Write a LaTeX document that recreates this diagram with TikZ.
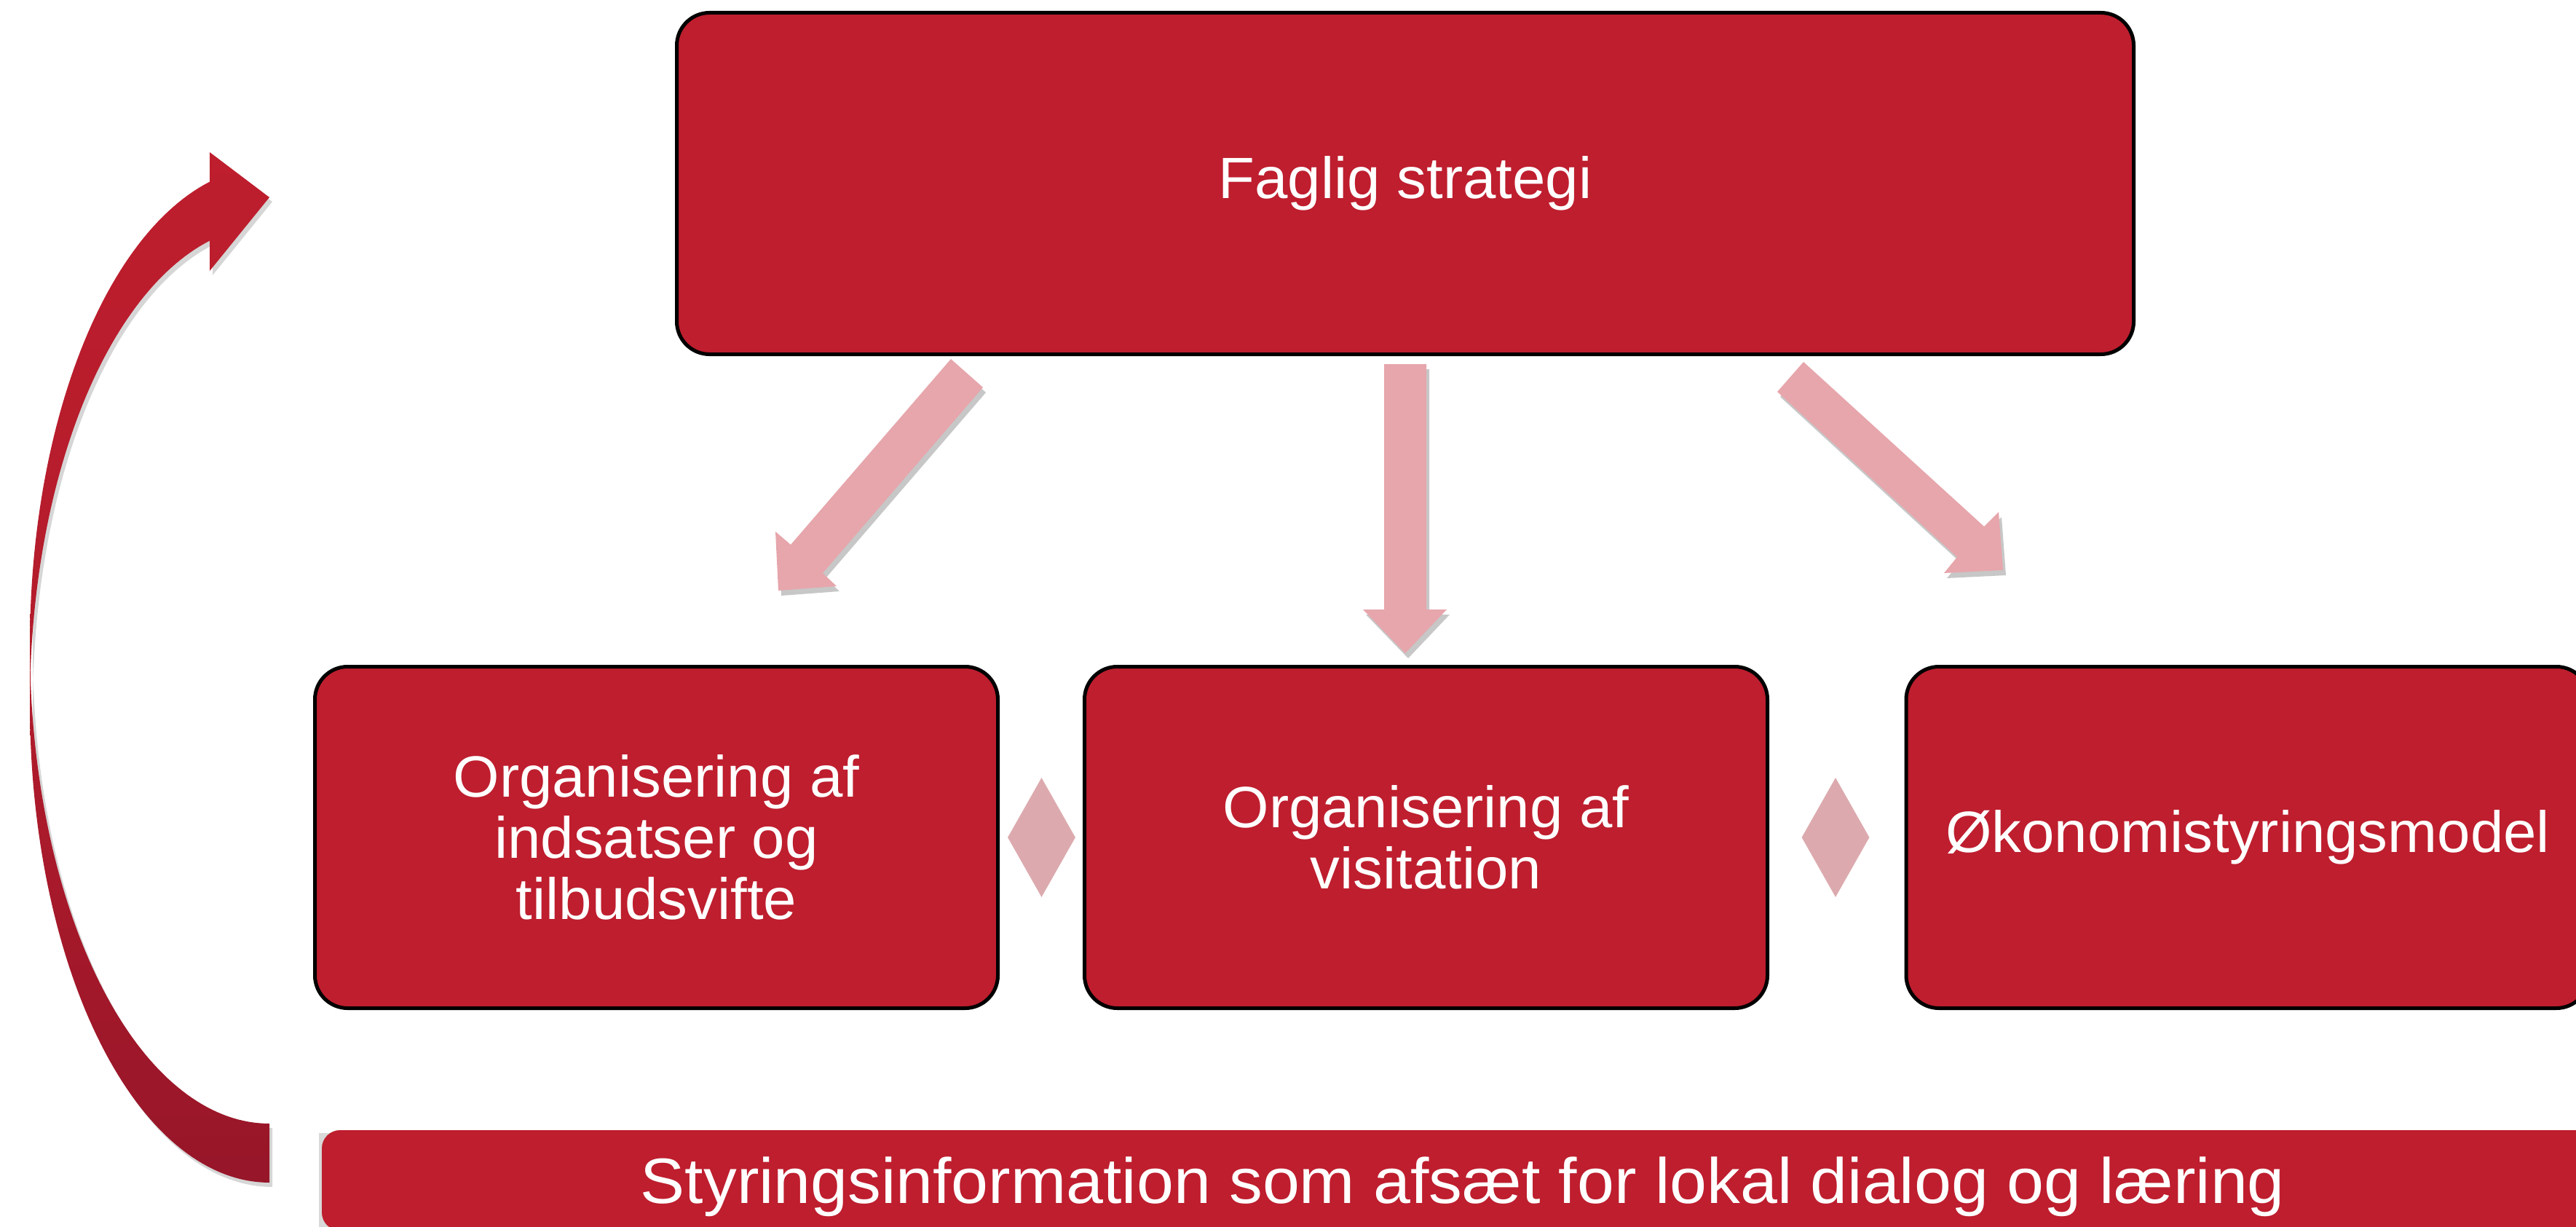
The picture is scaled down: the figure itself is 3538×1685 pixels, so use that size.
\documentclass[tikz,border=0pt]{standalone}
\usepackage{fontspec}
\setmainfont{Liberation Sans}
\newfontfamily\boxfont{Liberation Sans}[FakeStretch=1.02]
\newfontfamily\barfont{Liberation Sans}[FakeStretch=1.04]
\usetikzlibrary{shapes.geometric}
\definecolor{boxred}{HTML}{BE1E2E}
\definecolor{arrowpink}{HTML}{E6A6AC}
\definecolor{diapink}{HTML}{DCAAAE}
\definecolor{curvetop}{HTML}{BE1E2D}
\definecolor{curvebot}{HTML}{971629}
\begin{document}
\begin{tikzpicture}[x=1pt,y=-1pt,
  redbox/.style={draw=black, line width=5pt, fill=boxred, rounded corners=45pt,
    text=white, align=center, font=\boxfont\fontsize{80}{84}\selectfont, inner sep=0pt},
  blockarrow/.style={fill=arrowpink, draw=none},
  arrowshadow/.style={fill=black, opacity=0.22, draw=none},
  diam/.style={diamond, fill=diapink, draw=none, inner sep=0pt,
    minimum width=93pt, minimum height=164pt},
  bartext/.style={text=white, font=\barfont\fontsize{88}{92}\selectfont, anchor=base, inner sep=0pt}]
\useasboundingbox (0,0) rectangle (3538,1685);
\clip (0,0) rectangle (3538,1685);
\fill[white] (0,0) rectangle (3538,1685);

% curved feedback arrow: two equal ellipses offset vertically
\def\curvepath{
  plot[domain=90:183.53, samples=70, variable=\t] ({370+329*cos(\t)},{966.9+657.1*sin(\t)})
  -- plot[domain=176.47:255.57, samples=60, variable=\t] ({370+329*cos(\t)},{885.9+657.1*sin(\t)})
  -- (288,209) -- (370,271) -- (288,372)
  -- plot[domain=255.57:183.53, samples=60, variable=\t] ({370+329*cos(\t)},{966.9+657.1*sin(\t)})
  -- plot[domain=176.47:90, samples=70, variable=\t] ({370+329*cos(\t)},{885.9+657.1*sin(\t)})
  -- cycle}
\fill[black, opacity=0.16, shift={(4,6)}] \curvepath;
\path[top color=curvetop, bottom color=curvebot, middle color=curvetop!70!curvebot] \curvepath;

% boxes
\node[redbox, minimum width=2001pt, minimum height=469pt] (top) at (1930,252) {Faglig strategi};
\node[redbox, minimum width=938pt, minimum height=469pt] (b1) at (901.5,1150)
  {Organisering af\\indsatser og\\tilbudsvifte};
\node[redbox, minimum width=938pt, minimum height=469pt] (b2) at (1958.5,1150)
  {Organisering af\\visitation};
\node[redbox, minimum width=938pt, minimum height=469pt] (b3) at (3087,1150)
  {Økonomistyringsmodel};

% diamonds between boxes
\node[diam] (d1) at (1430.5,1150) {};
\node[diam] (d2) at (2521,1150) {};

% block arrows from the top box (shadows first)
\begin{scope}[shift={(4,7)}]
  \fill[arrowshadow] (1306,493) -- (1350,532) -- (1130,787) -- (1149,805) -- (1069,811) -- (1065,730) -- (1086,748) -- cycle;
  \fill[arrowshadow] (1901,500) -- (1959,500) -- (1959,837) -- (1987,837) -- (1930,897) -- (1872,837) -- (1901,837) -- cycle;
  \fill[arrowshadow] (2477,497) -- (2725,723) -- (2745,703) -- (2751,783) -- (2670,787) -- (2688,765) -- (2441,538) -- cycle;
\end{scope}
\fill[blockarrow] (1306,493) -- (1350,532) -- (1130,787) -- (1149,805) -- (1069,811) -- (1065,730) -- (1086,748) -- cycle;
\fill[blockarrow] (1901,500) -- (1959,500) -- (1959,837) -- (1987,837) -- (1930,897) -- (1872,837) -- (1901,837) -- cycle;
\fill[blockarrow] (2477,497) -- (2725,723) -- (2745,703) -- (2751,783) -- (2670,787) -- (2688,765) -- (2441,538) -- cycle;

% bottom bar
\fill[black, opacity=0.15] (438,1556) rectangle ++(20,140);
\node[fill=boxred, rounded corners=25pt, minimum width=3138pt, minimum height=138pt,
  inner sep=0pt] (bar) at (2011,1621) {};
\node[bartext] (bartxt) at (2009,1652) {Styringsinformation som afsæt for lokal dialog og læring};
\end{tikzpicture}
\end{document}
